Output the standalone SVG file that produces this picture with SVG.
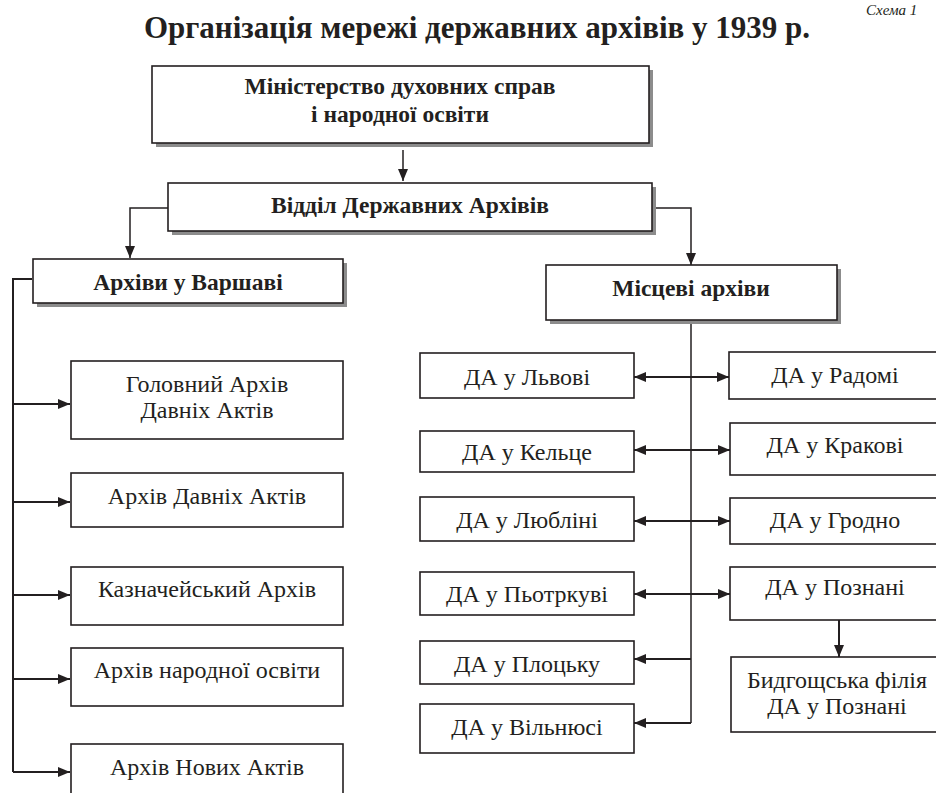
<svg xmlns="http://www.w3.org/2000/svg" width="936" height="793" viewBox="0 0 936 793" font-family="Liberation Serif, serif">
<defs>
<style>
.bg{fill:#fff}
.box{fill:#fff;stroke:#231f20;stroke-width:1.6}
.sh{fill:#8c8c8c}
.t{font-size:24px;fill:#231f20;text-anchor:middle}
.b{font-weight:bold;font-size:23.5px}
.title{font-size:31px;font-weight:bold;fill:#231f20;text-anchor:middle}
.cap{font-size:15px;font-style:italic;fill:#231f20}
.ln{fill:none;stroke:#231f20;stroke-width:2}
.thin{fill:none;stroke:#231f20;stroke-width:1.5}
</style>
<marker id="ah" viewBox="0 0 12 10" refX="12" refY="5" markerWidth="12" markerHeight="10" markerUnits="userSpaceOnUse" orient="auto-start-reverse">
<path d="M0,0 L12,5 L0,10 z" fill="#231f20"/>
</marker>
</defs>
<rect class="bg" x="0" y="0" width="936" height="793"/>
<text class="cap" x="866" y="15">Схема 1</text>
<text class="title" x="477" y="38">Організація мережі державних архівів у 1939 р.</text>

<g id="connectors">
<path class="thin" d="M403,150 V181" marker-end="url(#ah)"/>
<path class="thin" d="M168,208 H130 V258" marker-end="url(#ah)"/>
<path class="thin" d="M652,208 H691 V265" marker-end="url(#ah)"/>
<path class="ln" d="M32,279 H13 V772"/>
<path class="ln" d="M13,404 H70" marker-end="url(#ah)"/>
<path class="ln" d="M13,502 H70" marker-end="url(#ah)"/>
<path class="ln" d="M13,595 H70" marker-end="url(#ah)"/>
<path class="ln" d="M13,679 H70" marker-end="url(#ah)"/>
<path class="ln" d="M13,772 H70" marker-end="url(#ah)"/>
<path class="thin" d="M691,320 V723"/>
<path class="ln" d="M634,377 H729" marker-start="url(#ah)" marker-end="url(#ah)"/>
<path class="ln" d="M634,450 H730" marker-start="url(#ah)" marker-end="url(#ah)"/>
<path class="ln" d="M634,521 H730" marker-start="url(#ah)" marker-end="url(#ah)"/>
<path class="ln" d="M634,594 H730" marker-start="url(#ah)" marker-end="url(#ah)"/>
<path class="ln" d="M691,659 H634" marker-end="url(#ah)"/>
<path class="ln" d="M691,723 H634" marker-end="url(#ah)"/>
<path class="ln" d="M839,620 V657" marker-end="url(#ah)"/>
</g>

<g id="n-ministry">
<rect class="sh" x="156" y="70" width="497" height="77"/>
<rect class="box" x="152" y="66" width="497" height="77"/>
<text class="t b" x="400" y="94">Міністерство духовних справ</text>
<text class="t b" x="400" y="122">і народної освіти</text>
</g>
<g id="n-dept">
<rect class="sh" x="172" y="187" width="484" height="48"/>
<rect class="box" x="168" y="183" width="484" height="48"/>
<text class="t b" x="410" y="213">Відділ Державних Архівів</text>
</g>
<g id="n-warsaw">
<rect class="sh" x="37" y="263" width="310" height="44"/>
<rect class="box" x="33" y="259" width="310" height="44"/>
<text class="t b" x="188" y="290">Архіви у Варшаві</text>
</g>
<g id="n-local">
<rect class="sh" x="550" y="269" width="291" height="55"/>
<rect class="box" x="546" y="265" width="291" height="55"/>
<text class="t b" x="691" y="296">Місцеві архіви</text>
</g>

<g id="n-gada">
<rect class="box" x="71" y="361" width="272" height="78"/>
<text class="t" x="207" y="392">Головний Архів</text>
<text class="t" x="207" y="418">Давніх Актів</text>
</g>
<g id="n-ada">
<rect class="box" x="71" y="473" width="272" height="54"/>
<text class="t" x="207" y="504">Архів Давніх Актів</text>
</g>
<g id="n-treasury">
<rect class="box" x="71" y="567" width="272" height="58"/>
<text class="t" x="207" y="597">Казначейський Архів</text>
</g>
<g id="n-education">
<rect class="box" x="71" y="648" width="272" height="58"/>
<text class="t" x="207" y="678">Архів народної освіти</text>
</g>
<g id="n-ana">
<rect class="box" x="71" y="744" width="272" height="60"/>
<text class="t" x="207" y="775">Архів Нових Актів</text>
</g>

<g id="n-lviv">
<rect class="box" x="420" y="353" width="214" height="45"/>
<text class="t" x="527" y="385">ДА у Львові</text>
</g>
<g id="n-kielce">
<rect class="box" x="420" y="431" width="214" height="41"/>
<text class="t" x="527" y="460">ДА у Кельце</text>
</g>
<g id="n-lublin">
<rect class="box" x="420" y="497" width="214" height="44"/>
<text class="t" x="527" y="528">ДА у Любліні</text>
</g>
<g id="n-piotrkow">
<rect class="box" x="420" y="572" width="214" height="43"/>
<text class="t" x="527" y="602">ДА у Пьотркуві</text>
</g>
<g id="n-plock">
<rect class="box" x="420" y="641" width="214" height="43"/>
<text class="t" x="527" y="672">ДА у Плоцьку</text>
</g>
<g id="n-vilnius">
<rect class="box" x="420" y="704" width="214" height="49"/>
<text class="t" x="527" y="735">ДА у Вільнюсі</text>
</g>

<g id="n-radom">
<rect class="box" x="729" y="352" width="215" height="47"/>
<text class="t" x="835" y="383">ДА у Радомі</text>
</g>
<g id="n-krakow">
<rect class="box" x="730" y="423" width="215" height="52"/>
<text class="t" x="835" y="453">ДА у Кракові</text>
</g>
<g id="n-grodno">
<rect class="box" x="730" y="498" width="215" height="46"/>
<text class="t" x="835" y="528">ДА у Гродно</text>
</g>
<g id="n-poznan">
<rect class="box" x="730" y="567" width="215" height="53"/>
<text class="t" x="835" y="595">ДА у Познані</text>
</g>
<g id="n-bydgoszcz">
<rect class="box" x="731" y="657" width="215" height="75"/>
<text class="t" x="837" y="688">Бидгощська філія</text>
<text class="t" x="837" y="714">ДА у Познані</text>
</g>
</svg>
